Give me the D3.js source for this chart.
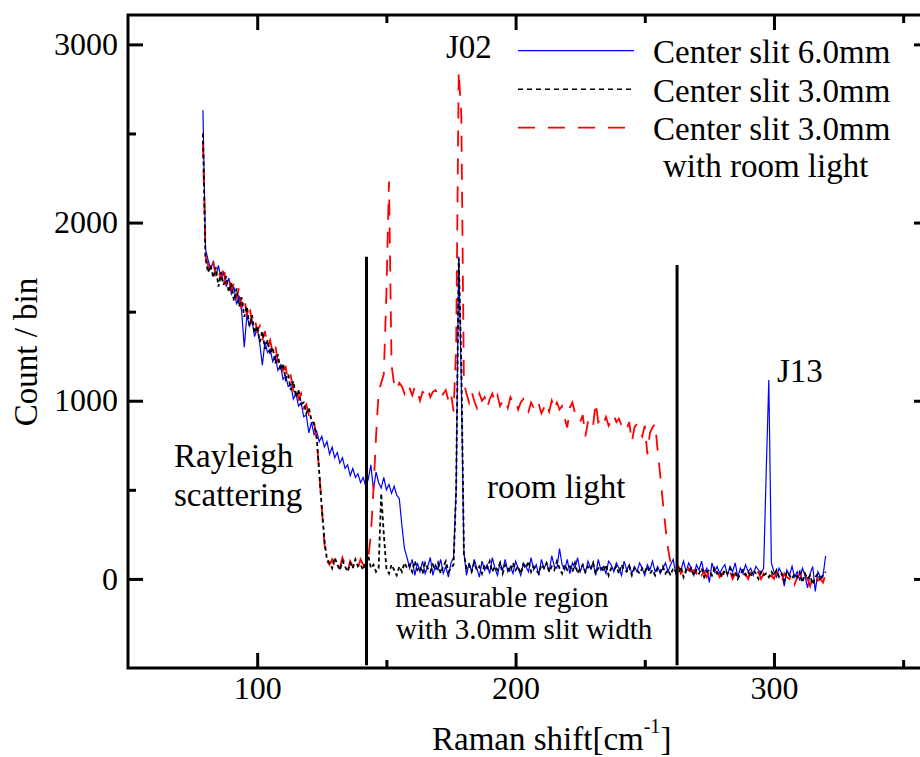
<!DOCTYPE html>
<meta charset="utf-8">
<title>Raman shift</title>
<style>
  body { margin: 0; background: #fff; }
  text { font-family: "Liberation Serif", "Times New Roman", serif; fill: #000; }
</style>
<body>
<div id="my_dataviz"></div>

<!-- Load d3.js -->
<script src="https://d3js.org/d3.v7.min.js"></script>
<script>

// Raman shift grid in cm-1, one bin per cm-1 (79 .. 320)
var shiftStart = 79, shiftEnd = 320;
var shift = d3.range(shiftStart, shiftEnd + 1);

// Center slit 6.0mm (blue, solid)
var slit6 = [
  2630, 1850, 1790, 1740, 1780, 1700, 1760, 1680, 1720, 1640,
  1690, 1600, 1640, 1540, 1590, 1500, 1300, 1480, 1420, 1450,
  1360, 1410, 1320, 1200, 1330, 1270, 1290, 1220, 1250, 1170,
  1200, 1120, 1140, 1080, 1090, 1010, 1040, 970, 990, 910,
  920, 820, 880, 810, 830, 770, 800, 740, 770, 700,
  740, 680, 710, 650, 680, 620, 640, 580, 620, 570,
  590, 540, 570, 520, 560, 640, 500, 600, 540, 510,
  570, 500, 530, 480, 520, 470, 450, 300, 170, 120,
  60, 110, 20, 90, 40, 100, 30, 70, 120, 20,
  80, 50, 110, 30, 70, 10, 90, 120, 500, 1810,
  1100, 150, 20, 90, 40, 110, 60, 10, 100, 50,
  80, 30, 120, 60, 20, 90, 50, 110, 40, 70,
  30, 100, 60, 20, 90, 70, 40, 120, 50, 80,
  20, 110, 60, 90, 40, 130, 70, 60, 170, 80,
  50, 110, 30, 90, 60, 120, 40, 80, 30, 100,
  60, 90, 20, 110, 50, 70, 30, 100, 80, 40,
  90, 60, 20, 100, 50, 80, 30, 70, 40, 90,
  60, 20, 80, 50, 100, 40, 70, 30, 60, 90,
  40, 80, 110, 30, 70, 50, 100, 40, 90, 60,
  20, 80, 50, 100, 30, 60, -20, 90, 40, 70,
  30, 60, 80, 20, 70, 40, 90, 10, 60, 30,
  80, 40, 60, 20, 70, 50, 30, 60, 600, 1117,
  90, 40, 10, 60, 30, -40, 50, 20, 70, 10,
  40, -10, 60, 20, -50, 30, 70, -70, 40, 10,
  20, 130
];

// Center slit 3.0mm (black, short dashes)
var slit3 = [
  2500, 1800, 1720, 1760, 1690, 1750, 1640, 1720, 1650, 1700,
  1610, 1660, 1560, 1630, 1530, 1580, 1470, 1530, 1420, 1480,
  1380, 1420, 1330, 1390, 1290, 1340, 1260, 1300, 1210, 1260,
  1170, 1210, 1120, 1150, 1060, 1110, 1020, 1060, 980, 990,
  930, 960, 890, 870, 800, 600, 400, 220, 110, 90,
  60, 120, 80, 50, 100, 70, 40, 90, 60, 110,
  70, 80, 50, 100, 130, 60, 80, 40, 60, 480,
  250, 60, 30, 80, 50, 20, 70, 40, 90, 60,
  80, 40, 100, 50, 70, 30, 90, 60, 40, 80,
  50, 90, 30, 70, 100, 40, 60, 80, 500, 1800,
  1200, 140, 60, 80, 40, 90, 50, 70, 30, 80,
  60, 100, 40, 70, 50, 90, 30, 80, 60, 40,
  90, 50, 70, 30, 80, 60, 100, 40, 70, 50,
  30, 80, 60, 90, 40, 70, 50, 100, 60, 30,
  80, 50, 70, 40, 90, 30, 60, 80, 40, 70,
  50, 90, 30, 60, 70, 40, 80, 20, 60, 50,
  70, 30, 80, 50, 40, 70, 20, 60, 50, 30,
  60, 40, 70, 30, 50, 20, 60, 40, 70, 30,
  50, 20, 60, 40, 30, 70, 10, 50, 40, 60,
  20, 50, 30, 60, 10, 40, 50, 20, 60, 30,
  40, 10, 50, 30, 60, 20, 40, 0, 30, 50,
  20, 40, 10, 50, 30, 0, 40, 20, 30, 10,
  40, 20, 50, 10, 30, -10, 40, 20, 0, 30,
  10, 40, -20, 30, 0, 20, -30, 10, 30, -10,
  20, 40
];

// Center slit 3.0mm with room light (red, long dashes)
var slit3Light = [
  2450, 1810, 1760, 1720, 1780, 1700, 1740, 1680, 1760, 1650,
  1700, 1620, 1660, 1570, 1640, 1520, 1580, 1480, 1540, 1430,
  1470, 1390, 1420, 1340, 1390, 1300, 1340, 1270, 1310, 1220,
  1240, 1170, 1190, 1110, 1140, 1060, 1090, 1010, 1040, 960,
  980, 920, 930, 880, 790, 600, 400, 200, 100, 80,
  110, 70, 90, 60, 120, 80, 40, 100, 70, 90,
  60, 110, 80, 70, 120, 250, 500, 800, 1050, 1100,
  1150, 1600, 2230, 1200, 1090, 1060, 1100, 1080, 1040, 1090,
  1070, 1030, 1080, 1060, 1000, 1050, 1040, 1070, 1020, 1050,
  1060, 1030, 1010, 1040, 1060, 1000, 1040, 940, 1300, 2850,
  2600, 1100, 1040, 990, 1050, 1000, 960, 1040, 1000, 1020,
  960, 1010, 1040, 990, 1030, 970, 1000, 1010, 960, 1020,
  990, 1000, 950, 990, 1010, 970, 940, 990, 960, 1000,
  980, 930, 960, 990, 940, 1000, 950, 990, 950, 970,
  900, 850, 960, 990, 930, 900, 880, 920, 800, 880,
  900, 860, 990, 880, 900, 870, 910, 860, 890, 920,
  880, 900, 860, 870, 840, 880, 770, 850, 870, 830,
  800, 860, 700, 820, 850, 870, 720, 580, 430, 290,
  170, 90, 60, 40, 70, 30, 50, 20, 60, 40,
  50, 30, 60, 20, 40, 10, 50, 30, 20, 40,
  10, 30, 50, 20, 40, 0, 30, 10, 40, 20,
  30, 0, 40, 10, 20, 40, 0, 30, 10, -10,
  20, 0, 40, 10, -20, 30, 10, 0, 20, -30,
  10, 30, -10, 20, 0, -40, 10, 30, -10, 0,
  -20, 30
];

// tick values
var xMajor = [100, 200, 300], xMinor = [150, 250, 350];
var yMajor = [0, 1000, 2000, 3000], yMinor = [500, 1500, 2500];

// measurable region markers (cm-1) and where each bar stops (count)
var regionShift = [142.3, 262.5];
var regionTop = [1808, 1762];
var regionBottom = -485;

var seriesNames = ["Center slit 6.0mm", "Center slit 3.0mm", "Center slit 3.0mm"];

// set the dimensions of the graph
var width = 920, height = 757;
var frame = {left: 128, right: 929, top: 15, bottom: 668};

var svg = d3.select("#my_dataviz")
  .append("svg")
    .attr("width", width)
    .attr("height", height);

var x = d3.scaleLinear().domain([50, 360]).range([frame.left, frame.right]);
var y = d3.scaleLinear().domain([-500, 3165]).range([frame.bottom, frame.top]);

// axes: major + minor ticks on all four sides, pointing inward
function tickAxis(axis, values, size, labels, pad) {
  return axis.tickValues(values).tickSizeInner(size).tickSizeOuter(0)
    .tickPadding(pad || 3)
    .tickFormat(labels ? d3.format("d") : "");
}
function drawAxis(axis, tr) {
  var g = svg.append("g").attr("transform", tr).call(axis);
  g.select(".domain").remove();
  g.selectAll(".tick line").attr("stroke", "#000").attr("stroke-width", 3);
  g.selectAll(".tick text").attr("font-size", 32)
    .attr("font-family", "Liberation Serif, serif").attr("fill", "#000");
  return g;
}
drawAxis(tickAxis(d3.axisBottom(x), xMajor, -15, true, 8), "translate(0," + frame.bottom + ")");
drawAxis(tickAxis(d3.axisBottom(x), xMinor, -8, false), "translate(0," + frame.bottom + ")");
drawAxis(tickAxis(d3.axisTop(x), xMajor, -15, false), "translate(0," + frame.top + ")");
drawAxis(tickAxis(d3.axisTop(x), xMinor, -8, false), "translate(0," + frame.top + ")");
drawAxis(tickAxis(d3.axisLeft(y), yMajor, -15, true, 10), "translate(" + frame.left + ",0)");
drawAxis(tickAxis(d3.axisLeft(y), yMinor, -8, false), "translate(" + frame.left + ",0)");
drawAxis(tickAxis(d3.axisRight(y), yMajor, -15, false), "translate(" + frame.right + ",0)");
drawAxis(tickAxis(d3.axisRight(y), yMinor, -8, false), "translate(" + frame.right + ",0)");

// frame
svg.append("rect")
  .attr("x", frame.left).attr("y", frame.top)
  .attr("width", frame.right - frame.left).attr("height", frame.bottom - frame.top)
  .attr("fill", "none").attr("stroke", "#000").attr("stroke-width", 3);

// the three spectra
var line = d3.line()
  .x(function(d, i) { return x(shift[i]); })
  .y(function(d) { return y(d); });

var series = [
  {values: slit6, color: "#0000ff", width: 1.2, dash: null},
  {values: slit3Light, color: "#ff0000", width: 1.8, dash: "16,12"},
  {values: slit3, color: "#000000", width: 1.8, dash: "4,3"}
];
series.forEach(function(s) {
  svg.append("path")
    .datum(s.values)
    .attr("fill", "none")
    .attr("stroke", s.color)
    .attr("stroke-width", s.width)
    .attr("stroke-dasharray", s.dash)
    .attr("d", line);
});

// measurable region bars
svg.selectAll(".region")
  .data(regionShift)
  .enter().append("line")
    .attr("x1", function(d) { return x(d); })
    .attr("x2", function(d) { return x(d); })
    .attr("y1", function(d, i) { return y(regionTop[i]); })
    .attr("y2", y(regionBottom))
    .attr("stroke", "#000").attr("stroke-width", 3);

// legend
var legend = [
  {name: seriesNames[0], color: "#0000ff", width: 1.2, dash: null, len: 116},
  {name: seriesNames[1], color: "#000000", width: 1.5, dash: "5,4", len: 113},
  {name: seriesNames[2], color: "#ff0000", width: 1.8, dash: "17,13", len: 107}
];
legend.forEach(function(l, i) {
  var ly = 50.7 + i * 38.5;
  svg.append("line")
    .attr("x1", 518).attr("x2", 518 + l.len)
    .attr("y1", ly).attr("y2", ly)
    .attr("stroke", l.color).attr("stroke-width", l.width)
    .attr("stroke-dasharray", l.dash);
  svg.append("text")
    .attr("x", 653).attr("y", ly + 12.5)
    .attr("font-size", 33)
    .text(l.name);
});
svg.append("text").attr("x", 663).attr("y", 177).attr("font-size", 33).text("with room light");

// annotations
function label(t, lx, ly, size) {
  svg.append("text").attr("x", lx).attr("y", ly).attr("font-size", size || 33).text(t);
}
label("J02", 446, 58);
label("J13", 777, 382);
label("Rayleigh", 174, 467);
label("scattering", 174, 506);
label("room light", 487, 498);
label("measurable region", 395, 607, 29);
label("with 3.0mm slit width", 396, 639, 29);

// axis titles
var xt = svg.append("text").attr("x", 432).attr("y", 750).attr("font-size", 33);
xt.append("tspan").text("Raman shift[cm");
xt.append("tspan").attr("font-size", 20).attr("dy", -17).text("-1");
xt.append("tspan").attr("dy", 17).text("]");

svg.append("text")
  .attr("transform", "translate(37,352) rotate(-90)")
  .attr("text-anchor", "middle")
  .attr("font-size", 33)
  .text("Count / bin");

</script>
</body>
